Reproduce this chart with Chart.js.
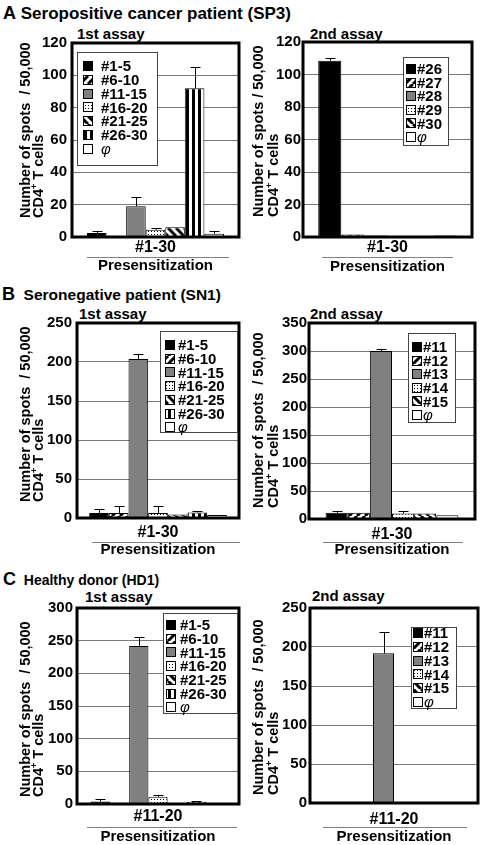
<!DOCTYPE html>
<html>
<head>
<meta charset="utf-8">
<script src="https://cdn.jsdelivr.net/npm/chart.js@4"></script>
<style>
  body { margin: 0; width: 483px; height: 845px; position: relative; overflow: hidden; background: #fff;
         font-family: "Liberation Sans", Arial, sans-serif; font-weight: bold; color: #000; }
  .txt { position: absolute; white-space: nowrap; line-height: 1; }
  canvas { position: absolute; }
</style>
</head>
<body>
<div class="txt" style="left:3px;top:4px;font-size:17px"><span style="font-size:18px">A</span> Seropositive cancer patient (SP3)</div>
<div class="txt" style="left:2px;top:285px;font-size:15.5px"><span style="font-size:18px">B</span>&nbsp; Seronegative patient (SN1)</div>
<div class="txt" style="left:3px;top:570px;font-size:14px"><span style="font-size:18px">C</span>&nbsp; Healthy donor (HD1)</div>

<div class="txt" style="left:77px;top:26px;font-size:15px">1st assay</div>
<div class="txt" style="left:310px;top:26px;font-size:15px">2nd assay</div>
<div class="txt" style="left:79px;top:306px;font-size:15px">1st assay</div>
<div class="txt" style="left:310px;top:306px;font-size:15px">2nd assay</div>
<div class="txt" style="left:85px;top:589px;font-size:15px">1st assay</div>
<div class="txt" style="left:312px;top:588px;font-size:15px">2nd assay</div>

<script>
// legend labels
const POOLS = ["#1-5", "#6-10", "#11-15", "#16-20", "#21-25", "#26-30", "φ"];
const SP3_PEPTIDES = ["#26", "#27", "#28", "#29", "#30", "φ"];
const POOL3_PEPTIDES = ["#11", "#12", "#13", "#14", "#15", "φ"];

// x categories (presensitization)
const PRESENS_SP3 = ["#1-30"];
const PRESENS_SN1 = ["#1-30"];
const PRESENS_HD1 = ["#11-20"];

// spots / 50,000 CD4+ T cells, and SD (upper error bar)
const SP3_1ST = [2.5, 0.5, 19, 4.5, 6, 92, 2];
const SP3_1ST_ERR = [1.5, 0, 6, 1.3, 0, 13, 1.8];
const SP3_2ND = [108.5, 1.5, 1, 0, 0, 1];
const SP3_2ND_ERR = [1.5, 0, 0, 0, 0, 0];

const SN1_1ST = [6.5, 6.5, 204, 6.5, 4.5, 7, 4];
const SN1_1ST_ERR = [5.5, 8.5, 6, 9.5, 0, 2.5, 0];
const SN1_2ND = [11, 11, 300, 10, 10, 6.5];
const SN1_2ND_ERR = [4, 0, 3, 4, 0, 0];

const HD1_1ST = [4, 2, 242, 11, 1, 3.5, 1];
const HD1_1ST_ERR = [4, 0, 13, 2.5, 0, 1, 0];
const HD1_2ND = [0, 0, 192, 0, 0.5, 0.5];
const HD1_2ND_ERR = [0, 0, 27.5, 0, 0, 0];

// y ticks
const Y_TICKS_SP3 = [0, 20, 40, 60, 80, 100, 120];
const Y_TICKS_SN1_1ST = [0, 50, 100, 150, 200, 250];
const Y_TICKS_SN1_2ND = [0, 50, 100, 150, 200, 250, 300, 350];
const Y_TICKS_HD1_1ST = [0, 50, 100, 150, 200, 250, 300];
const Y_TICKS_HD1_2ND = [0, 50, 100, 150, 200, 250];

const FILLS_7 = ["black", "slashUp", "gray", "dots", "slashDown", "vstripe", "white"];
const FILLS_6 = ["black", "slashUp", "gray", "dots", "slashDown", "white"];
const FONT = "'Liberation Sans', Arial, sans-serif";

function makeFill(kind) {
    if (kind === "black") return "#000";
    if (kind === "gray") return "#808080";
    if (kind === "white") return "#fff";
    const n = kind === "dots" ? 3 : kind === "vstripe" ? 6 : 8;
    const c = document.createElement("canvas");
    c.width = n;
    c.height = n;
    const g = c.getContext("2d");
    g.fillStyle = "#fff";
    g.fillRect(0, 0, n, n);
    g.fillStyle = "#000";
    g.strokeStyle = "#000";
    g.lineWidth = 3;
    if (kind === "dots") g.fillRect(1, 1, 1, 1);
    if (kind === "vstripe") g.fillRect(0, 0, 3, n);
    if (kind === "slashUp" || kind === "slashDown") {
        for (const k of [-n, 0, n]) {
            g.beginPath();
            if (kind === "slashUp") { g.moveTo(k, n); g.lineTo(k + n, 0); }
            else { g.moveTo(k, 0); g.lineTo(k + n, n); }
            g.stroke();
        }
    }
    return g.createPattern(c, "repeat");
}

const panelExtras = {
    id: "panelExtras",
    afterDatasetsDraw(chart) {
        const ctx = chart.ctx;
        const y = chart.scales.y;
        ctx.save();
        ctx.strokeStyle = "#000";
        ctx.lineWidth = 1;
        chart.data.datasets.forEach((ds, i) => {
            chart.getDatasetMeta(i).data.forEach((bar, j) => {
                const err = ds.errors[j];
                if (!err) return;
                const top = Math.round(y.getPixelForValue(ds.data[j] + err)) + 0.5;
                const x = Math.round(bar.x) + 0.5;
                ctx.beginPath();
                ctx.moveTo(x, bar.y);
                ctx.lineTo(x, top);
                ctx.moveTo(x - 5, top);
                ctx.lineTo(x + 5, top);
                ctx.stroke();
            });
        });
        ctx.restore();
    },
    afterDraw(chart, args, o) {
        const ctx = chart.ctx;
        const ca = chart.chartArea;
        const ox = o.origin[0], oy = o.origin[1];
        ctx.save();

        // frame
        ctx.strokeStyle = "#000";
        ctx.lineWidth = 3;
        ctx.strokeRect(ca.left, ca.top, ca.right - ca.left, ca.bottom - ca.top);

        // legend
        const lg = o.legend;
        ctx.fillStyle = "#fff";
        ctx.fillRect(lg.x - ox, lg.y - oy, lg.w, lg.h);
        ctx.strokeStyle = "#444";
        ctx.lineWidth = 1;
        ctx.strokeRect(lg.x - ox + 0.5, lg.y - oy + 0.5, lg.w, lg.h);
        ctx.textBaseline = "middle";
        ctx.textAlign = "left";
        chart.data.datasets.forEach((ds, i) => {
            const cy = lg.y - oy + lg.first + i * lg.step;
            const sx = lg.sw - ox;
            ctx.fillStyle = ds.backgroundColor;
            ctx.fillRect(sx, Math.round(cy - 5), 10, 10);
            ctx.strokeStyle = "#000";
            ctx.strokeRect(sx + 0.5, Math.round(cy - 5) + 0.5, 9, 9);
            ctx.fillStyle = "#000";
            ctx.font = ds.label === "φ" ? `italic 15px ${FONT}` : `bold 15px ${FONT}`;
            ctx.fillText(ds.label, lg.tx - ox, cy + 1);
        });

        // rule between category label and "Presensitization"
        const r = o.rule;
        ctx.strokeStyle = "#808080";
        ctx.lineWidth = 1;
        ctx.beginPath();
        ctx.moveTo(r[0] - ox, r[2] - oy + 0.5);
        ctx.lineTo(r[1] - ox, r[2] - oy + 0.5);
        ctx.stroke();

        // two-line y axis title
        const t = o.yTitle;
        ctx.fillStyle = "#000";
        ctx.textBaseline = "alphabetic";
        ctx.translate(0, t.start - oy);
        ctx.rotate(-Math.PI / 2);
        ctx.font = `bold 14.5px ${FONT}`;
        ctx.fillText(o.yText, 0, t.l1 - ox);
        let x = 0;
        ctx.fillText("CD4", x, t.l2 - ox);
        x += ctx.measureText("CD4").width;
        ctx.font = `bold 9px ${FONT}`;
        ctx.fillText("+", x, t.l2 - ox - 6);
        x += ctx.measureText("+").width;
        ctx.font = `bold 14.5px ${FONT}`;
        ctx.fillText(" T cells", x, t.l2 - ox);
        ctx.restore();
    }
};

function drawPanel(p) {
    const [cx, cy, cw, ch] = p.canvas;
    const [pl, pt, pr, pb] = p.plot;
    const canvas = document.createElement("canvas");
    canvas.width = cw;
    canvas.height = ch;
    canvas.style.left = cx + "px";
    canvas.style.top = cy + "px";
    canvas.style.width = cw + "px";
    canvas.style.height = ch + "px";
    document.body.appendChild(canvas);

    const fills = p.fills.map(makeFill);
    new Chart(canvas, {
        type: "bar",
        data: {
            labels: p.categories,
            datasets: p.labels.map((label, i) => ({
                label,
                data: [p.values[i]],
                errors: [p.errors[i]],
                backgroundColor: fills[i],
                borderColor: "#000",
                borderWidth: 1,
            })),
        },
        options: {
            responsive: false,
            animation: false,
            devicePixelRatio: 1,
            layout: { padding: { top: pt - cy, right: cx + cw - pr, left: 0, bottom: 0 } },
            datasets: { bar: { categoryPercentage: p.catPct, barPercentage: 1 } },
            plugins: {
                legend: { display: false },
                tooltip: { enabled: false },
                panelExtras: {
                    origin: [cx, cy],
                    legend: p.legend,
                    rule: p.rule,
                    yTitle: p.yTitle,
                    yText: p.yText,
                },
            },
            scales: {
                x: {
                    grid: { display: false, drawTicks: false },
                    border: { display: false },
                    ticks: { color: "#000", padding: p.labelY - pb - 8, font: { family: FONT, weight: "bold", size: 16, lineHeight: 1 } },
                    title: {
                        display: true,
                        text: "Presensitization",
                        color: "#000",
                        font: { family: FONT, weight: "bold", size: 15, lineHeight: 1 },
                        padding: { top: 0, bottom: cy + ch - p.titleY - 7.5 },
                    },
                    afterFit: (s) => { s.height = cy + ch - pb; },
                },
                y: {
                    min: 0,
                    max: p.yTicks[p.yTicks.length - 1],
                    grid: { color: "#7a7a7a", lineWidth: 1, drawTicks: false },
                    border: { display: false },
                    ticks: { color: "#000", padding: p.tickPad, font: { family: FONT, weight: "bold", size: 15 } },
                    afterBuildTicks: (s) => { s.ticks = p.yTicks.map((v) => ({ value: v })); },
                    afterFit: (s) => { s.width = pl - cx; },
                },
            },
        },
        plugins: [panelExtras],
    });
}

const Y_LEFT = "Number of spots  / 50,000";
const Y_RIGHT = "Number of spots / 50,000";

drawPanel({
    canvas: [0, 20, 245, 262], plot: [72, 43, 239, 237],
    categories: PRESENS_SP3, labels: POOLS, fills: FILLS_7, values: SP3_1ST, errors: SP3_1ST_ERR, yTicks: Y_TICKS_SP3,
    catPct: 0.82, tickPad: 5, labelY: 248, titleY: 266, rule: [87, 229, 257],
    legend: { x: 77, y: 52, w: 80, h: 113, first: 14, step: 13.8, sw: 83, tx: 101 },
    yTitle: { l1: 30.4, l2: 43.4, start: 218 }, yText: Y_LEFT,
});
drawPanel({
    canvas: [245, 20, 238, 262], plot: [303, 42, 472, 237],
    categories: PRESENS_SP3, labels: SP3_PEPTIDES, fills: FILLS_6, values: SP3_2ND, errors: SP3_2ND_ERR, yTicks: Y_TICKS_SP3,
    catPct: 0.82, tickPad: 2, labelY: 248, titleY: 267, rule: [322, 453, 257],
    legend: { x: 403, y: 57, w: 45, h: 88, first: 12, step: 13.6, sw: 406, tx: 417 },
    yTitle: { l1: 263.4, l2: 278.4, start: 217 }, yText: Y_RIGHT,
});
drawPanel({
    canvas: [0, 300, 245, 262], plot: [77, 323, 239, 518],
    categories: PRESENS_SN1, labels: POOLS, fills: FILLS_7, values: SN1_1ST, errors: SN1_1ST_ERR, yTicks: Y_TICKS_SN1_1ST,
    catPct: 0.85, tickPad: 5, labelY: 533, titleY: 550, rule: [92, 240, 542],
    legend: { x: 160, y: 331, w: 77, h: 101, first: 14, step: 13.7, sw: 165, tx: 178 },
    yTitle: { l1: 30.4, l2: 43.4, start: 502 }, yText: Y_LEFT,
});
drawPanel({
    canvas: [245, 300, 238, 262], plot: [309, 323, 475, 519],
    categories: PRESENS_SN1, labels: POOL3_PEPTIDES, fills: FILLS_6, values: SN1_2ND, errors: SN1_2ND_ERR, yTicks: Y_TICKS_SN1_2ND,
    catPct: 0.80, tickPad: 2, labelY: 535, titleY: 550, rule: [323, 463, 542],
    legend: { x: 408, y: 333, w: 47, h: 89, first: 14, step: 13.6, sw: 412, tx: 423 },
    yTitle: { l1: 263.4, l2: 278.4, start: 508 }, yText: Y_LEFT,
});
drawPanel({
    canvas: [0, 585, 245, 260], plot: [77, 608, 239, 804],
    categories: PRESENS_HD1, labels: POOLS, fills: FILLS_7, values: HD1_1ST, errors: HD1_1ST_ERR, yTicks: Y_TICKS_HD1_1ST,
    catPct: 0.83, tickPad: 4, labelY: 817, titleY: 837, rule: [87, 237, 827],
    legend: { x: 163, y: 613, w: 74, h: 100, first: 12, step: 13.7, sw: 166, tx: 180 },
    yTitle: { l1: 30.4, l2: 43.4, start: 797 }, yText: Y_LEFT,
});
drawPanel({
    canvas: [245, 585, 238, 260], plot: [310, 608, 478, 803],
    categories: PRESENS_HD1, labels: POOL3_PEPTIDES, fills: FILLS_6, values: HD1_2ND, errors: HD1_2ND_ERR, yTicks: Y_TICKS_HD1_2ND,
    catPct: 0.75, tickPad: 3, labelY: 820, titleY: 837, rule: [323, 467, 827],
    legend: { x: 411, y: 627, w: 45, h: 81, first: 6, step: 13.8, sw: 413, tx: 424 },
    yTitle: { l1: 263.4, l2: 278.4, start: 795 }, yText: Y_LEFT,
});
</script>
</body>
</html>
